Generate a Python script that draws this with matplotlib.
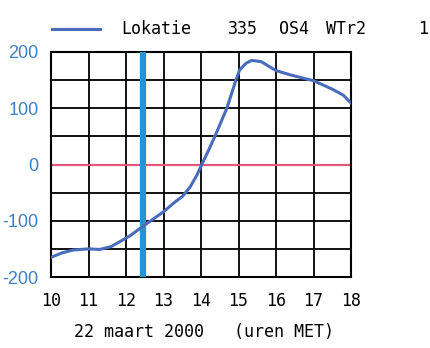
import matplotlib
matplotlib.use("Agg")
import matplotlib.pyplot as plt

# uren (MET) en gemeten waarden
hours = [10.0, 10.3, 10.6, 11.0, 11.3, 11.6, 11.84, 12.1, 12.45, 13.0, 13.3, 13.5,
         13.7, 13.89, 14.0, 14.2, 14.37, 14.69, 14.93, 15.03, 15.2, 15.35, 15.6, 16.0,
         16.4, 17.0, 17.5, 17.8, 18.0]
values = [-165, -157, -152, -150, -151, -146, -137, -127, -110, -84, -67, -57,
          -41, -19, -3, 25, 50, 100, 150, 168, 180, 185, 183, 167,
          159, 149, 134, 123, 109]

marker_hour = 12.45
xticks = [10, 11, 12, 13, 14, 15, 16, 17, 18]
yticks = [-200, -100, 0, 100, 200]
title_parts = [("Lokatie", 121), ("335", 228), ("OS4", 279), ("WTr2", 326), ("1", 418)]

mono = "DejaVu Sans Mono"

fig = plt.figure(figsize=(4.30, 3.48), dpi=100)
ax = fig.add_axes([51 / 430, 1 - 277 / 348, 300 / 430, 225 / 348])

ax.set_xlim(10, 18)
ax.set_ylim(-200, 200)

# raster
for h in xticks:
    ax.axvline(h, color="black", lw=1.3, zorder=1)
for v in range(-200, 201, 50):
    ax.axhline(v, color="black", lw=1.3, zorder=1)
ax.axhline(0, color="#e0587e", lw=1.6, zorder=2)

ax.axvline(marker_hour, color="#2593d6", lw=4.5, zorder=3)
ax.plot(hours, values, color="#4a6cbc", lw=2.2, zorder=4, solid_capstyle="round",
        solid_joinstyle="round")

for s in ax.spines.values():
    s.set_linewidth(1.5)
ax.tick_params(length=0)
ax.set_xticks(xticks)
ax.set_xticklabels([str(h) for h in xticks], fontfamily=mono, fontsize=12)
ax.tick_params(axis="x", pad=11)
ax.set_yticks(yticks)
ax.set_yticklabels([str(v) for v in yticks], color="#3f7fc4", fontsize=13,
                   fontfamily="Liberation Sans")
ax.tick_params(axis="y", pad=9)

fig.text(74 / 430, 1 - 332 / 348, "22 maart 2000   (uren MET)", fontfamily=mono,
         fontsize=12, va="center", ha="left")

# legenda / titelregel
fig.add_artist(plt.Line2D([52 / 430, 100 / 430], [1 - 29 / 348, 1 - 29 / 348],
                          color="#4a6cbc", lw=2.2))
for text, x in title_parts:
    fig.text(x / 430, 1 - 29 / 348, text, fontfamily=mono, fontsize=12,
             va="center", ha="left")

fig.savefig("out.png", dpi=100)
